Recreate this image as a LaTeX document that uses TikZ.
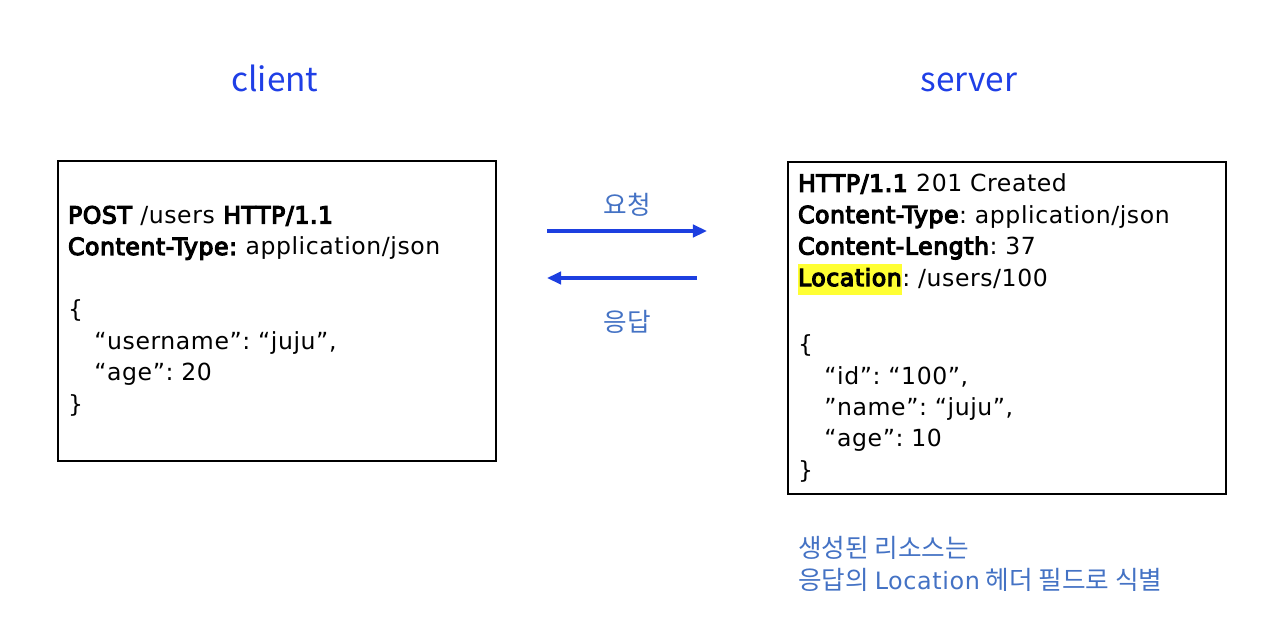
\documentclass[tikz,border=0pt]{standalone}
\usepackage{fontspec}
\setmainfont{DejaVu Sans}[LetterSpace=2.5, BoldFont={DejaVu Sans}, BoldFeatures={FakeBold=5}]
\newfontfamily\kr{Noto Sans CJK KR}
\usetikzlibrary{arrows.meta}
\definecolor{titleblue}{HTML}{1F3FE6}
\definecolor{arrowblue}{HTML}{1D3FE0}
\definecolor{noteblue}{HTML}{4472C4}
\definecolor{marker}{HTML}{FFFF33}
\newcommand{\markword}[1]{{\setlength{\fboxsep}{0pt}\colorbox{marker}{\strut#1}}}
\frenchspacing

\begin{document}
\begin{tikzpicture}[x=0.02cm, y=-0.02cm, >={Triangle[length=8pt,width=7pt]}]
    \useasboundingbox (0,0) rectangle (1280,639);
    \tikzset{
        title/.style={text=titleblue, anchor=base, font=\kr\fontsize{19}{23}\selectfont},
        msgbox/.style={draw, line width=0.9pt, align=left, inner xsep=10*0.02cm,
            text width=8.36cm, minimum width=8.76cm,
            font=\fontsize{13.4}{17.9}\selectfont},
        label/.style={text=noteblue, font=\kr\fontsize{14.6}{18}\selectfont},
        flow/.style={->, draw=arrowblue, line width=2.1pt}
    }

    \node[title] (clienttitle) at (275,91) {client};
    \node[title] (servertitle) at (969,91) {server};

    \node[msgbox, minimum height=6cm] (clientbox) at (277,311) {%
        \textbf{POST} /users \textbf{HTTP/1.1}\\
        \textbf{Content-Type:} application/json\\[17.9pt]
        \{\\
        \hspace*{15pt}“username”: “juju”,\\
        \hspace*{15pt}“age”: 20\\
        \}};

    \node[msgbox, minimum height=6.64cm] (serverbox) at (1007,328) {%
        \textbf{HTTP/1.1} 201 Created\\
        \textbf{Content-Type}: application/json\\
        \textbf{Content-Length}: 37\\
        \markword{\textbf{Location}}: /users/100\\[20pt]
        \{\\
        \hspace*{15pt}“id”: “100”,\\
        \hspace*{15pt}”name”: “juju”,\\
        \hspace*{15pt}“age”: 10\\
        \}};

    % request / response
    \coordinate (reqa) at (547,231);
    \coordinate (reqb) at (707,231);
    \coordinate (resa) at (697,278);
    \coordinate (resb) at (547,278);
    \draw[flow] (reqa) -- (reqb);
    \draw[flow] (resa) -- (resb);
    \node[label] (reqlabel) at (627,205) {요청};
    \node[label] (reslabel) at (627,322) {응답};

    \node[label, anchor=west, align=left, font=\kr\fontsize{14.6}{18.2}\selectfont] (note) at (792,564)
        {생성된 리소스는\\응답의 {\rmfamily\fontsize{13.6}{18.2}\selectfont Location} 헤더 필드로 식별};
\end{tikzpicture}
\end{document}
